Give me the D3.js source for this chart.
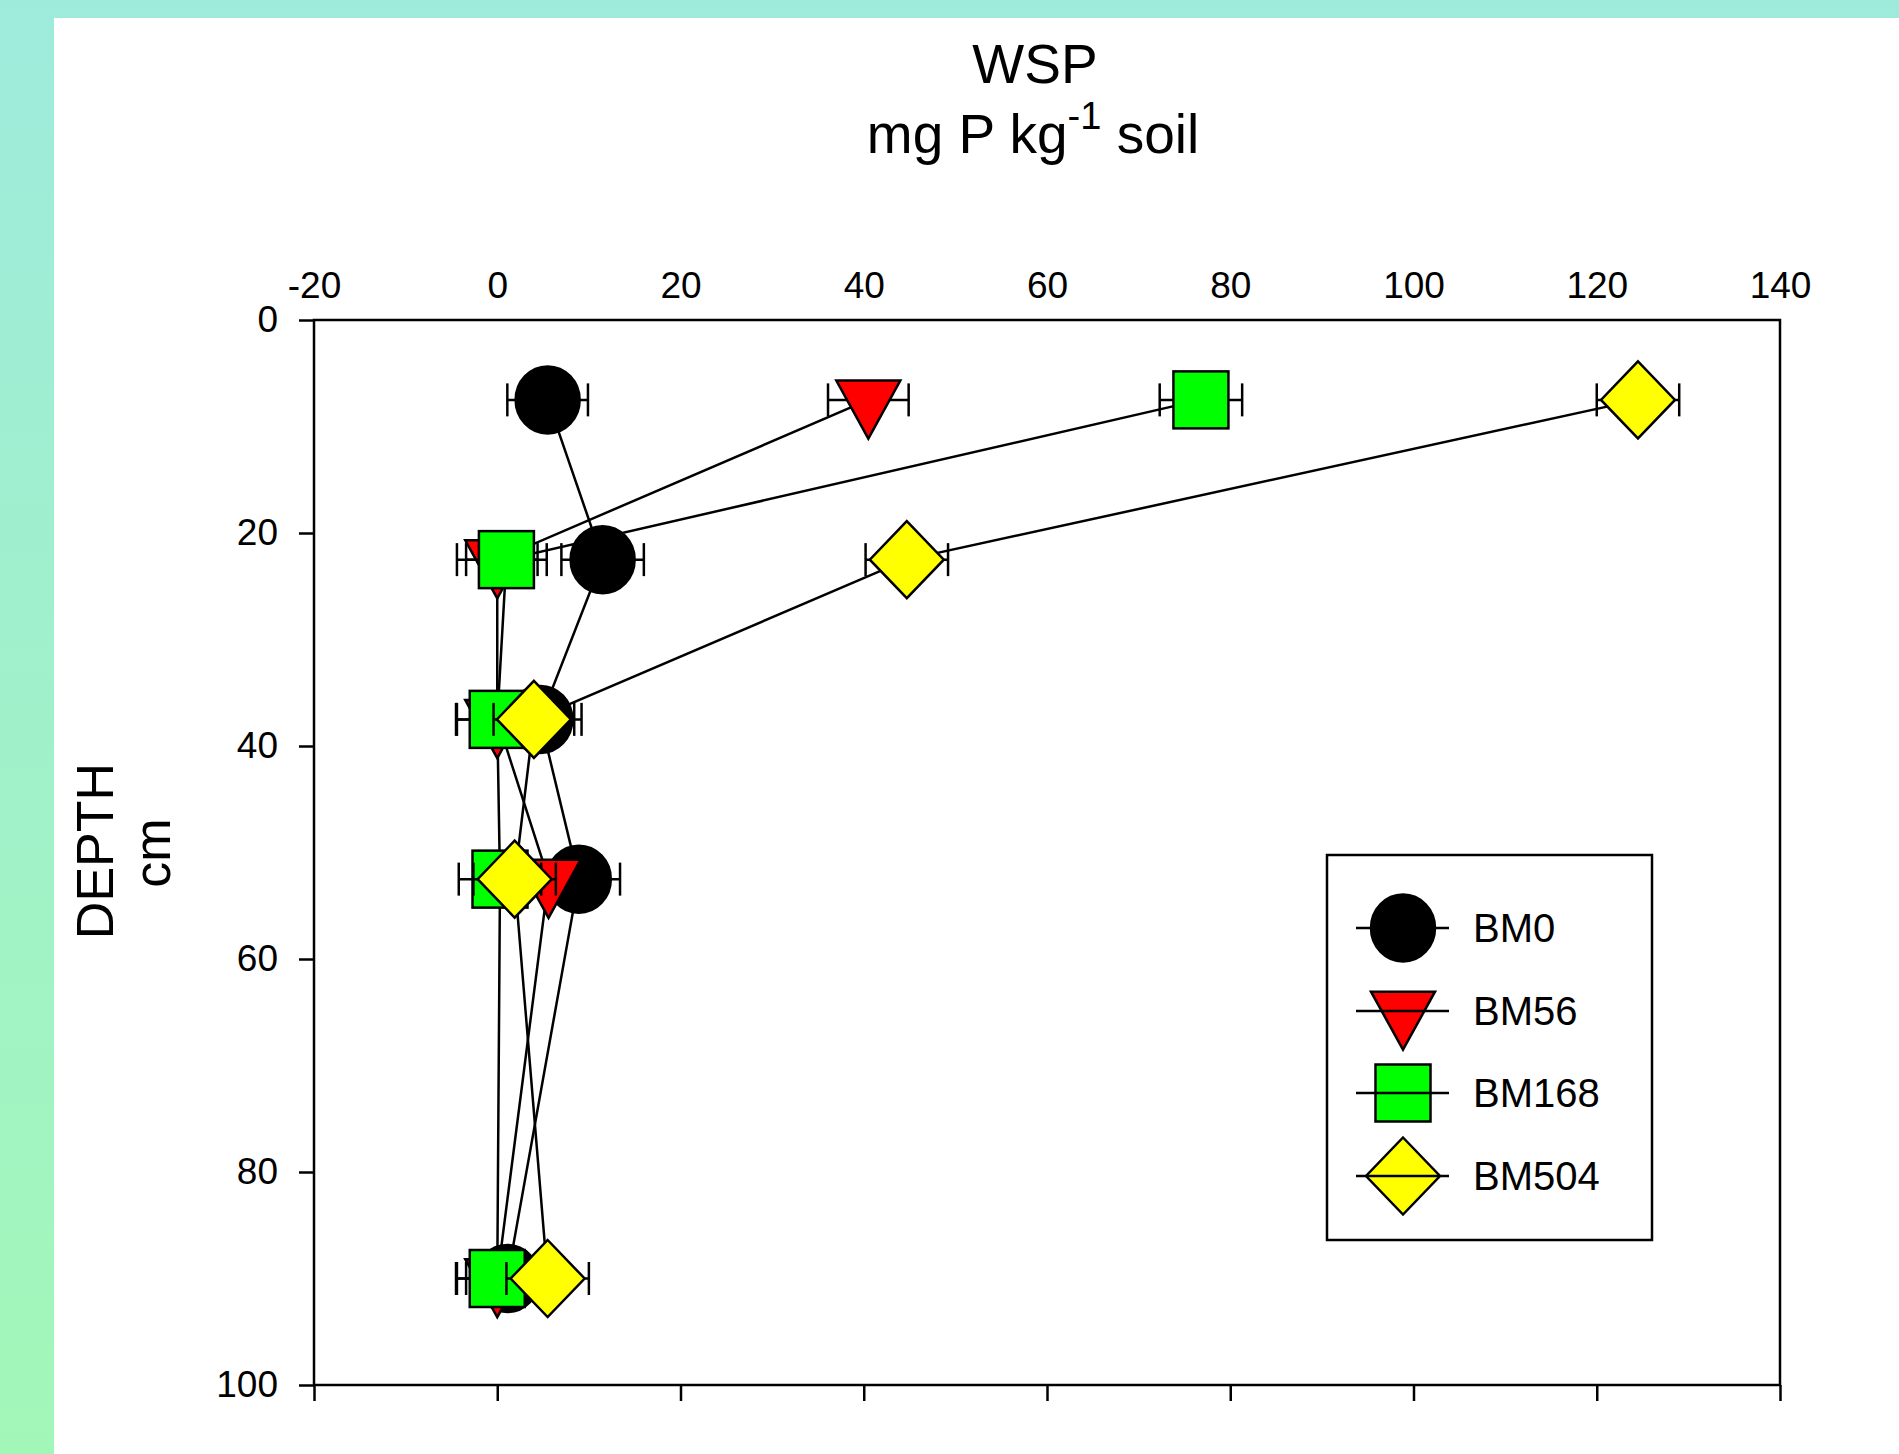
<!DOCTYPE html>
<html>
<head>
<meta charset="utf-8">
<script src="https://cdn.jsdelivr.net/npm/d3@7"></script>
<style>
  body { margin: 0; padding: 0; overflow: hidden; }
  svg { display: block; }
  text { font-family: "Liberation Sans", Arial, sans-serif; fill: #000; }
</style>
</head>
<body>
<svg id="chart" width="1899" height="1454"></svg>
<script>
// depth of each sampling layer (cm)
var depths = [7.5, 22.5, 37.5, 52.5, 90];

var seriesNames = ['BM0', 'BM56', 'BM168', 'BM504'];
var bm0     = [5.5, 11.5, 4.7, 8.9, 1.1];
var bm0Err  = [4.4, 4.5, 4.5, 4.5, 4.5];
var bm56    = [40.5, 0.0, 0.0, 5.6, 0.0];
var bm56Err = [4.4, 4.4, 4.4, 4.4, 4.4];
var bm168    = [76.8, 1.0, 0.0, 0.3, 0.0];
var bm168Err = [4.5, 4.4, 4.5, 4.5, 4.5];
var bm504    = [124.5, 44.7, 4.0, 1.9, 5.5];
var bm504Err = [4.5, 4.5, 4.4, 4.5, 4.5];

var xTicks = [-20, 0, 20, 40, 60, 80, 100, 120, 140];
var yTicks = [0, 20, 40, 60, 80, 100];

var fills = ['#000000', '#ff0000', '#00ff00', '#ffff00'];
var shapes = ['circle', 'triangle', 'square', 'diamond'];
var allValues = [bm0, bm56, bm168, bm504];
var allErrors = [bm0Err, bm56Err, bm168Err, bm504Err];

function drawChart(){
  var svg = d3.select('#chart');

  // background: teal band top/left, white panel
  var defs = svg.append('defs');
  var grad = defs.append('linearGradient')
    .attr('id', 'bg').attr('x1', 0).attr('y1', 0).attr('x2', 0).attr('y2', 1);
  grad.append('stop').attr('offset', '0%').attr('stop-color', '#9eebdc');
  grad.append('stop').attr('offset', '100%').attr('stop-color', '#a2f7b8');
  svg.append('rect').attr('width', 1899).attr('height', 1454).style('fill', 'url(#bg)');
  svg.append('rect').attr('x', 54).attr('y', 18).attr('width', 1845).attr('height', 1436).style('fill', '#fff');

  var plotLeft = 314, plotRight = 1780, plotTop = 320, plotBottom = 1385;

  var xScale = d3.scaleLinear().domain([-20, 140]).range([plotLeft, plotRight]);
  var yScale = d3.scaleLinear().domain([0, 100]).range([plotTop, plotBottom]);

  // plain hyphen for negatives, like the original
  var fmt = function(d){ return String(d); };

  // axes
  var gTop = svg.append('g')
    .attr('transform', 'translate(0,' + plotTop + ')')
    .call(d3.axisTop(xScale).tickValues(xTicks).tickSize(0).tickPadding(22).tickFormat(fmt));
  var gBottom = svg.append('g')
    .attr('transform', 'translate(0,' + plotBottom + ')')
    .call(d3.axisBottom(xScale).tickValues(xTicks).tickSize(16).tickFormat(''));
  var gLeft = svg.append('g')
    .attr('transform', 'translate(' + plotLeft + ',0)')
    .call(d3.axisLeft(yScale).tickValues(yTicks).tickSize(15).tickPadding(21).tickFormat(fmt));

  [gTop, gBottom, gLeft].forEach(function(g){
    g.select('.domain').remove();
    g.selectAll('line').style('stroke', '#000').style('stroke-width', '2.5px');
    g.selectAll('text').style('font-size', '37px')
     .style('font-family', '"Liberation Sans", Arial, sans-serif').style('fill', '#000');
  });

  // frame
  svg.append('rect')
    .attr('x', plotLeft).attr('y', plotTop)
    .attr('width', plotRight - plotLeft).attr('height', plotBottom - plotTop)
    .style('fill', 'none').style('stroke', '#000').style('stroke-width', '2.5px');

  // titles
  svg.append('text').attr('x', 1035).attr('y', 83)
    .attr('text-anchor', 'middle').style('font-size', '55px').text('WSP');
  var t2 = svg.append('text').attr('x', 1033).attr('y', 153).attr('text-anchor', 'middle').style('font-size', '55px');
  t2.append('tspan').text('mg P kg');
  t2.append('tspan').attr('dy', -24).style('font-size', '38px').text('-1');
  t2.append('tspan').attr('dy', 24).text(' soil');

  svg.append('text')
    .attr('transform', 'translate(113,851) rotate(-90)')
    .attr('text-anchor', 'middle').style('font-size', '52px').text('DEPTH');
  svg.append('text')
    .attr('transform', 'translate(170,853) rotate(-90)')
    .attr('text-anchor', 'middle').style('font-size', '52px').text('cm');

  // marker drawing
  function drawMarker(g, shape, fill){
    var m;
    if (shape == 'circle') {
      m = g.append('ellipse').attr('rx', 32).attr('ry', 33.5);
    } else if (shape == 'triangle') {
      m = g.append('path').attr('d', 'M-32,-19.3L32,-19.3L0,38.7Z');
    } else if (shape == 'square') {
      m = g.append('rect').attr('x', -27.5).attr('y', -28.5).attr('width', 55).attr('height', 57);
    } else {
      m = g.append('path').attr('d', 'M0,-38.5L37,0L0,38.5L-37,0Z');
    }
    m.style('fill', fill).style('stroke', '#000').style('stroke-width', '2.5px')
     .style('stroke-linejoin', 'miter');
    return m;
  }

  var line = d3.line()
    .x(function(d){ return xScale(d[0]); })
    .y(function(d){ return yScale(d[1]); });

  // connecting lines first
  for (var s = 0; s < allValues.length; s++) {
    var pts = allValues[s].map(function(v, i){ return [v, depths[i]]; });
    svg.append('path')
      .attr('d', line(pts))
      .style('fill', 'none').style('stroke', '#000').style('stroke-width', '2.5px');
  }

  // error bars and symbols per series
  for (var s = 0; s < allValues.length; s++) {
    var vals = allValues[s], errs = allErrors[s];
    var gs = svg.append('g').attr('class', 'series-' + seriesNames[s]);
    for (var i = 0; i < vals.length; i++) {
      var yv = yScale(depths[i]);
      var x1 = xScale(vals[i] - errs[i]), x2 = xScale(vals[i] + errs[i]);
      var eb = gs.append('g').attr('class', 'errbar');
      eb.append('line').attr('x1', x1).attr('x2', x2).attr('y1', yv).attr('y2', yv);
      eb.append('line').attr('x1', x1).attr('x2', x1).attr('y1', yv - 16.5).attr('y2', yv + 16.5);
      eb.append('line').attr('x1', x2).attr('x2', x2).attr('y1', yv - 16.5).attr('y2', yv + 16.5);
      eb.selectAll('line').style('stroke', '#000').style('stroke-width', '2.5px');
      var gm = gs.append('g').attr('transform', 'translate(' + xScale(vals[i]) + ',' + yv + ')');
      drawMarker(gm, shapes[s], fills[s]);
    }
  }

  // legend
  var legend = svg.append('g');
  legend.append('rect')
    .attr('x', 1327).attr('y', 855).attr('width', 325).attr('height', 385)
    .style('fill', '#fff').style('stroke', '#000').style('stroke-width', '2.5px');
  var legendY = [928, 1011, 1093, 1176];
  for (var s = 0; s < seriesNames.length; s++) {
    var gl = legend.append('g').attr('transform', 'translate(1403,' + legendY[s] + ')');
    drawMarker(gl, shapes[s], fills[s]);
    gl.append('line').attr('x1', -47).attr('x2', 46).attr('y1', 0).attr('y2', 0)
      .style('stroke', '#000').style('stroke-width', '2.5px');
    legend.append('text')
      .attr('x', 1473).attr('y', legendY[s]).attr('dy', '0.36em')
      .style('font-size', '40px').text(seriesNames[s]);
  }
}

drawChart();
</script>
</body>
</html>
